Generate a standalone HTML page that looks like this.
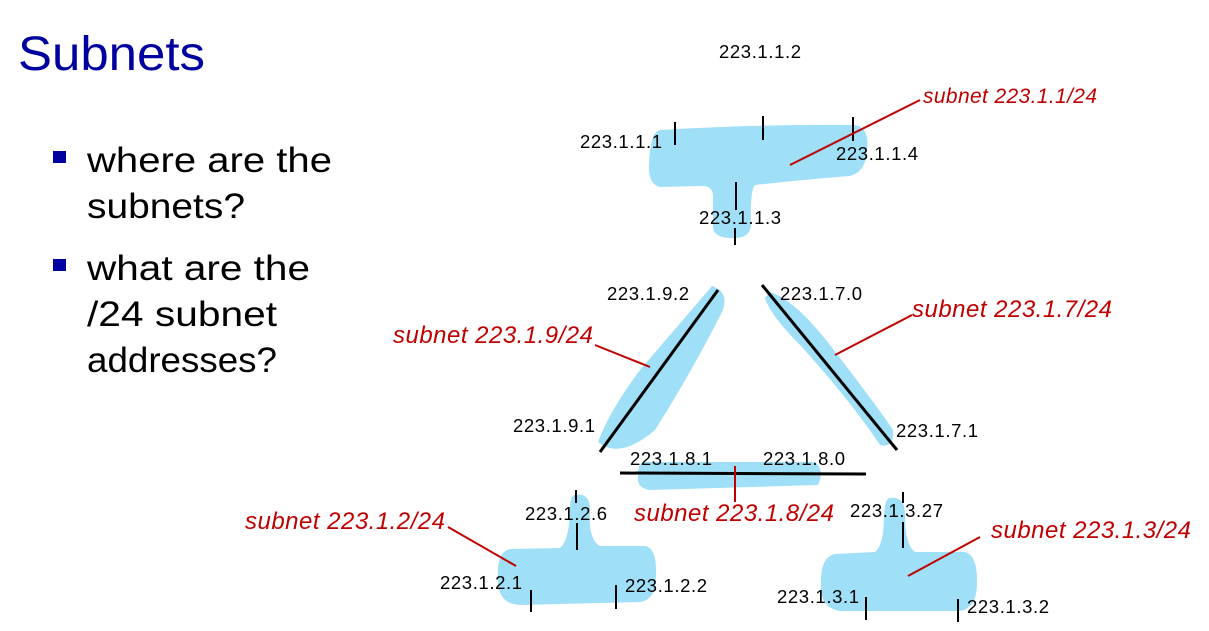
<!DOCTYPE html>
<html><head><meta charset="utf-8"><style>
body{margin:0;background:#fff}
svg{display:block}
.l{font-family:"Liberation Sans",sans-serif;font-size:18.5px;fill:#000}
.r{font-family:"Liberation Sans",sans-serif;font-size:24px;font-style:italic;fill:#c00000}
.b{font-family:"Liberation Sans",sans-serif;font-size:35px;fill:#000}
</style></head><body>
<svg width="1209" height="631" viewBox="0 0 1209 631" xmlns="http://www.w3.org/2000/svg">
<text x="18" y="70" font-family="Liberation Sans,sans-serif" font-size="48" fill="#0000a0" textLength="187" lengthAdjust="spacingAndGlyphs">Subnets</text>
<rect x="53" y="151" width="13" height="12" fill="#0000a0"/>
<rect x="53" y="259" width="13" height="12" fill="#0000a0"/>
<text class="b" x="87" y="172" textLength="245" lengthAdjust="spacingAndGlyphs">where are the</text>
<text class="b" x="87" y="218" textLength="158" lengthAdjust="spacingAndGlyphs">subnets?</text>
<text class="b" x="87" y="280" textLength="223" lengthAdjust="spacingAndGlyphs">what are the</text>
<text class="b" x="87" y="326" textLength="190" lengthAdjust="spacingAndGlyphs">/24 subnet</text>
<text class="b" x="87" y="372" textLength="190" lengthAdjust="spacingAndGlyphs">addresses?</text>

<g fill="#9fdff7">
<path d="M660 130 Q760 124 855 125 Q870 128 867 150 Q866 172 850 176 Q800 180 755 185 Q750 190 751 225 Q750 238 735 238 Q715 239 713 228 L713 195 Q712 185 700 186 L660 187 Q648 184 649 165 Q650 132 660 130 Z"/>
<path d="M712 286 Q730 292 722 312 Q690 375 655 430 Q620 460 598 442 Q610 410 640 370 Z"/>
<path d="M770 292 Q795 300 830 345 Q880 410 893 430 Q895 448 880 445 Q850 400 800 345 Q770 315 765 298 Z"/>
<path d="M645 462 L815 462 Q825 470 818 485 L650 490 Q636 488 638 475 Q638 462 645 462 Z"/>
<path d="M575 495 Q590 492 590 510 Q588 540 600 546 L645 546 Q657 548 656 575 Q656 600 640 602 L520 605 Q498 604 498 580 Q496 552 510 549 L560 548 Q570 540 570 505 Q571 495 575 495 Z"/>
<path d="M890 498 Q905 496 905 515 Q905 545 915 552 L965 552 Q977 555 977 580 Q978 608 960 611 L840 611 Q820 608 821 585 Q820 557 835 554 L875 552 Q884 545 884 515 Q885 498 890 498 Z"/>
</g>

<g stroke="#000" stroke-width="3">
<line x1="718" y1="290" x2="600" y2="452"/>
<line x1="762" y1="285" x2="897" y2="450"/>
<line x1="620" y1="473" x2="866" y2="474"/>
</g>
<g stroke="#000" stroke-width="2">
<line x1="675" y1="122" x2="675" y2="145"/>
<line x1="763" y1="116" x2="763" y2="140"/>
<line x1="853" y1="117" x2="853" y2="141"/>
<line x1="736" y1="182" x2="736" y2="210"/>
<line x1="735" y1="228" x2="735" y2="245"/>
<line x1="576" y1="490" x2="576" y2="503"/>
<line x1="577" y1="523" x2="577" y2="550"/>
<line x1="531" y1="590" x2="531" y2="612"/>
<line x1="616" y1="585" x2="616" y2="609"/>
<line x1="903" y1="492" x2="903" y2="503"/>
<line x1="903" y1="522" x2="903" y2="548"/>
<line x1="866" y1="597" x2="866" y2="620"/>
<line x1="958" y1="599" x2="958" y2="622"/>
</g>
<g stroke="#c00000" stroke-width="2">
<line x1="920" y1="100" x2="790" y2="165"/>
<line x1="595" y1="345" x2="650" y2="367"/>
<line x1="912" y1="315" x2="835" y2="355"/>
<line x1="735" y1="466" x2="735" y2="502"/>
<line x1="448" y1="527" x2="516" y2="566"/>
<line x1="980" y1="537" x2="908" y2="576"/>
</g>

<text class="l" x="719" y="58" textLength="82">223.1.1.2</text>
<text class="l" x="580" y="148" textLength="82">223.1.1.1</text>
<text class="l" x="836" y="160" textLength="82">223.1.1.4</text>
<text class="l" x="699" y="224" textLength="82">223.1.1.3</text>
<text class="l" x="607" y="300" textLength="82">223.1.9.2</text>
<text class="l" x="780" y="300" textLength="82">223.1.7.0</text>
<text class="l" x="513" y="432" textLength="82">223.1.9.1</text>
<text class="l" x="896" y="437" textLength="82">223.1.7.1</text>
<text class="l" x="630" y="465" textLength="82">223.1.8.1</text>
<text class="l" x="763" y="465" textLength="82">223.1.8.0</text>
<text class="l" x="525" y="520" textLength="82">223.1.2.6</text>
<text class="l" x="850" y="517" textLength="93">223.1.3.27</text>
<text class="l" x="440" y="589" textLength="82">223.1.2.1</text>
<text class="l" x="625" y="592" textLength="82">223.1.2.2</text>
<text class="l" x="777" y="603" textLength="82">223.1.3.1</text>
<text class="l" x="967" y="613" textLength="82">223.1.3.2</text>

<text class="r" x="923" y="103" style="font-size:21px" textLength="174">subnet 223.1.1/24</text>
<text class="r" x="393" y="343" textLength="200">subnet 223.1.9/24</text>
<text class="r" x="912" y="317" textLength="200">subnet 223.1.7/24</text>
<text class="r" x="634" y="521" textLength="200">subnet 223.1.8/24</text>
<text class="r" x="245" y="529" textLength="200">subnet 223.1.2/24</text>
<text class="r" x="991" y="538" textLength="200">subnet 223.1.3/24</text>
</svg>
</body></html>
